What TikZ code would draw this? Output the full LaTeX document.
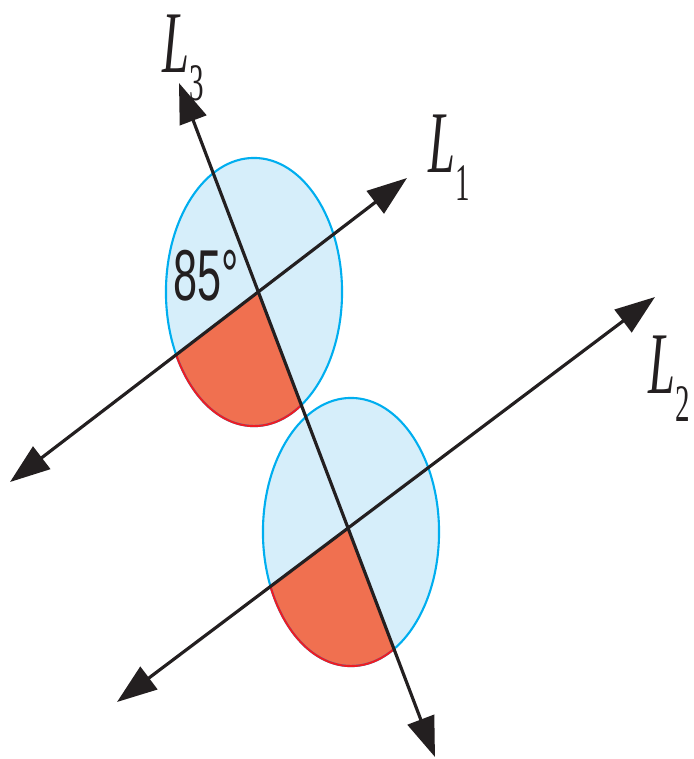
\documentclass[tikz,border=0pt]{standalone}
\usepackage{fontspec}
\setmainfont{Liberation Serif}
\newfontfamily\labelfont[FakeStretch=0.55]{Liberation Serif}
\newfontfamily\anglefont[FakeStretch=0.6]{Liberation Sans}
\usetikzlibrary{arrows.meta}

\definecolor{skyfill}{RGB}{214,238,250}
\definecolor{skyline}{RGB}{0,174,239}
\definecolor{sectorfill}{RGB}{240,112,80}
\definecolor{sectorline}{RGB}{237,28,36}
\definecolor{ink}{RGB}{35,31,32}

\newcommand{\linename}[1]{{\itshape L}\raisebox{-8pt}{\fontsize{15}{18}\selectfont #1}}

\tikzset{
  oval/.style={x radius=0.88cm, y radius=1.34cm},
  transversal/.style={<->, draw=ink, line width=0.9pt},
  lbl/.style={anchor=base west, inner sep=0pt, text=ink, font=\labelfont\fontsize{25}{30}\selectfont}
}

\begin{document}
\begin{tikzpicture}[x=0.01cm, y=-0.01cm, >={Triangle[length=0.4cm,width=0.28cm]}]
\useasboundingbox (0,0) rectangle (694,759);

\coordinate (P) at (258,292);
\coordinate (Q) at (348,528);
\coordinate (E1) at (254,292);
\coordinate (E2) at (351,532);
\coordinate (L3a) at (179,83);
\coordinate (L3b) at (435,757);
\coordinate (L1a) at (10,482);
\coordinate (L1b) at (407,178);
\coordinate (L2a) at (117,702);
\coordinate (L2b) at (655,297);

% shaded ovals with the marked angle in red
\foreach \e/\v/\a in {E1/P/L1a, E2/Q/L2a} {
  \fill[skyfill] (\e) ellipse [oval];
  \begin{scope}
    \clip (\e) ellipse [oval];
    \fill[sectorfill] (\v) -- (\a) -- (L3b) -- cycle;
  \end{scope}
  \draw[skyline, line width=0.6pt] (\e) ellipse [oval];
  \begin{scope}
    \clip (\v) -- (\a) -- (L3b) -- cycle;
    \draw[sectorline, line width=0.6pt] (\e) ellipse [oval];
  \end{scope}
}

% the three lines
\draw[transversal] (L3a) -- (L3b);
\draw[transversal] (L1a) -- (L1b);
\draw[transversal] (L2a) -- (L2b);

\node[lbl] (l3) at (162,72) {\linename{3}};
\node[lbl] (l1) at (428,172) {\linename{1}};
\node[lbl] (l2) at (648,393) {\linename{2}};
\node[anchor=base west, inner sep=0pt, text=ink, font=\anglefont\fontsize{20.5}{24}\selectfont] (ang) at (173,300) {85°};
\end{tikzpicture}
\end{document}
